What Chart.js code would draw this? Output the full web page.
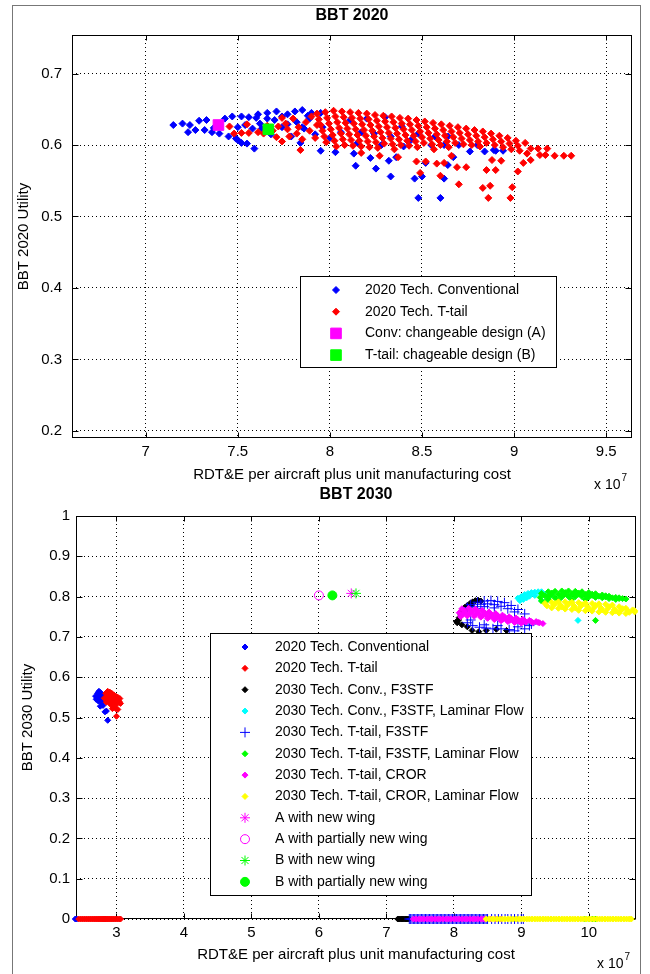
<!DOCTYPE html>
<html>
<head>
<meta charset="utf-8">
<script src="https://cdn.jsdelivr.net/npm/chart.js@4.4.0/dist/chart.umd.min.js"></script>
<style>
html, body { margin: 0; padding: 0; background: #fff; }
#page { position: relative; width: 650px; height: 974px; overflow: hidden; }
#frame { position: absolute; left: 12px; top: 5px; width: 629px; height: 990px; border: 1px solid #777; box-sizing: border-box; }
canvas { position: absolute; left: 0; }
#c1 { top: 0; }
#c2 { top: 487px; }
</style>
</head>
<body>
<div id="page">
  <div id="frame"></div>
  <canvas id="c1" width="650" height="495"></canvas>
  <canvas id="c2" width="650" height="487"></canvas>
</div>
<script>
// ---- BBT 2020 (cost in units of 1e7) ----
const xTicks2020 = [7, 7.5, 8, 8.5, 9, 9.5];
const yTicks2020 = [0.2, 0.3, 0.4, 0.5, 0.6, 0.7];

const conv2020 = [
  [7.15,0.628],[7.20,0.630],[7.24,0.628],[7.29,0.634],[7.33,0.635],[7.23,0.618],[7.27,0.621],[7.32,0.621],[7.36,0.618],
  [7.43,0.637],[7.47,0.640],[7.52,0.640],[7.56,0.639],[7.60,0.638],[7.61,0.643],[7.66,0.645],[7.71,0.647],[7.74,0.640],
  [7.77,0.643],[7.81,0.647],[7.85,0.649],[7.88,0.641],[7.90,0.645],[7.95,0.645],[7.37,0.624],
  [7.40,0.616],[7.45,0.612],[7.49,0.609],[7.50,0.607],[7.52,0.603],[7.55,0.602],[7.59,0.595],[7.58,0.623],[7.63,0.623],
  [7.50,0.625],[7.54,0.628],[7.66,0.637],[7.70,0.635],[7.84,0.603],[7.86,0.623],[7.89,0.637],[7.74,0.625],[7.77,0.629],
  [7.79,0.612],[7.68,0.615],[7.62,0.630],[7.82,0.632],[7.85,0.625],
  [7.95,0.592],[8.03,0.590],[8.13,0.588],[8.14,0.571],[8.22,0.582],[8.25,0.567],[8.32,0.578],[8.33,0.556],[8.46,0.553],
  [8.48,0.526],[8.60,0.526],[8.62,0.553],[8.50,0.556],[8.64,0.572],[8.67,0.583],[8.76,0.591],[8.84,0.591],[8.90,0.592],
  [8.94,0.592],[8.89,0.593],
  [8.06,0.618],[8.11,0.635],[8.20,0.637],[8.30,0.639],[8.39,0.626],[8.48,0.616],[8.57,0.612],[8.64,0.612],[8.33,0.612],
  [8.24,0.616],[8.17,0.618],[8.44,0.607],[8.55,0.600],[8.62,0.600],[8.70,0.600],[8.80,0.600],[8.36,0.583],[8.52,0.575],
  [8.40,0.598],[8.28,0.600],[8.15,0.603],[8.00,0.610],[7.96,0.625],[7.92,0.615]
];

const ttail2020 = [
  // left part mixed with the conventional designs
  [7.455,0.626],[7.48,0.616],[7.52,0.617],[7.56,0.617],[7.55,0.629],[7.61,0.618],[7.64,0.616],[7.72,0.626],[7.74,0.638],
  [7.77,0.622],[7.80,0.637],[7.82,0.616],[7.87,0.632],[7.74,0.605],[7.71,0.611],[7.66,0.627],[7.69,0.620],[7.76,0.630],
  [7.83,0.625],[7.89,0.620],[7.90,0.640],[7.92,0.610],[7.85,0.608],[7.78,0.612],[7.93,0.628],
  // main body, slanted columns
  [7.93,0.644],[7.94,0.636],[7.95,0.628],[7.96,0.620],[7.97,0.612],[7.98,0.604],
  [7.975,0.646],[7.985,0.638],[7.995,0.630],[8.005,0.622],[8.015,0.614],[8.025,0.606],[8.035,0.598],
  [8.02,0.648],[8.03,0.640],[8.04,0.632],[8.05,0.624],[8.06,0.616],[8.07,0.608],[8.08,0.600],
  [8.065,0.647],[8.075,0.639],[8.085,0.631],[8.095,0.623],[8.105,0.615],[8.115,0.607],[8.125,0.599],
  [8.11,0.646],[8.12,0.638],[8.13,0.630],[8.14,0.622],[8.15,0.614],[8.16,0.606],[8.17,0.598],
  [8.155,0.645],[8.165,0.637],[8.175,0.629],[8.185,0.621],[8.195,0.613],[8.205,0.605],[8.215,0.597],
  [8.20,0.644],[8.21,0.636],[8.22,0.628],[8.23,0.620],[8.24,0.612],[8.25,0.604],[8.26,0.596],
  [8.245,0.642],[8.255,0.634],[8.265,0.626],[8.275,0.618],[8.285,0.610],[8.295,0.602],
  [8.29,0.641],[8.30,0.633],[8.31,0.625],[8.32,0.617],[8.33,0.609],[8.34,0.601],[8.35,0.594],
  [8.335,0.640],[8.345,0.632],[8.355,0.624],[8.365,0.616],[8.375,0.608],[8.385,0.600],
  [8.38,0.638],[8.39,0.630],[8.40,0.622],[8.41,0.614],[8.42,0.606],[8.43,0.599],
  [8.425,0.637],[8.435,0.629],[8.445,0.621],[8.455,0.613],[8.465,0.605],[8.475,0.597],
  [8.47,0.635],[8.48,0.627],[8.49,0.619],[8.50,0.611],[8.51,0.603],
  [8.515,0.633],[8.525,0.625],[8.535,0.617],[8.545,0.609],[8.555,0.601],[8.565,0.594],
  [8.56,0.631],[8.57,0.623],[8.58,0.615],[8.59,0.607],[8.60,0.600],
  [8.605,0.629],[8.615,0.621],[8.625,0.613],[8.635,0.605],[8.645,0.597],
  [8.65,0.627],[8.66,0.619],[8.67,0.611],[8.68,0.603],
  [8.695,0.625],[8.705,0.617],[8.715,0.609],[8.725,0.601],
  [8.74,0.623],[8.75,0.615],[8.76,0.607],[8.77,0.600],
  [8.785,0.621],[8.795,0.613],[8.805,0.605],[8.815,0.598],
  [8.83,0.619],[8.84,0.611],[8.85,0.603],
  [8.875,0.616],[8.885,0.608],[8.895,0.600],
  [8.92,0.613],[8.93,0.605],[8.94,0.597],
  [8.965,0.610],[8.975,0.602],[8.985,0.594],
  [9.01,0.606],[9.02,0.599],[9.03,0.592],
  // right tail and low outliers
  [9.06,0.603],[9.09,0.595],[9.13,0.595],[9.18,0.595],[9.07,0.588],[9.14,0.586],[9.17,0.586],[9.22,0.585],[9.27,0.585],
  [9.31,0.585],[9.09,0.579],[9.05,0.575],[9.02,0.563],[8.99,0.541],[8.98,0.526],[8.86,0.526],[8.87,0.543],[8.83,0.540],
  [8.70,0.545],[8.90,0.565],[8.85,0.565],[8.74,0.569],[8.69,0.569],[8.93,0.578],[8.88,0.579],[8.62,0.575],[8.66,0.585],
  [8.60,0.557],[8.49,0.561],[8.58,0.574],[8.52,0.577],[8.47,0.577],[8.37,0.583],[8.27,0.585],[8.17,0.589],[7.84,0.593]
];

const designA2020 = [[7.395, 0.628]];
const designB2020 = [[7.666, 0.622]];

// ---- BBT 2030 ----
const xTicks2030 = [3, 4, 5, 6, 7, 8, 9, 10];
const yTicks2030 = [0, 0.1, 0.2, 0.3, 0.4, 0.5, 0.6, 0.7, 0.8, 0.9, 1];

const conv2020in2030 = [
  [2.69,0.553],[2.72,0.560],[2.74,0.565],[2.76,0.562],[2.78,0.558],[2.71,0.548],[2.74,0.552],[2.77,0.549],[2.80,0.553],
  [2.82,0.556],[2.76,0.539],[2.79,0.539],[2.76,0.528],[2.80,0.530],[2.83,0.514],[2.85,0.516],[2.87,0.493],[2.73,0.541],
  [2.70,0.545],[2.84,0.545]
];
const ttail2020in2030 = [
  [2.84,0.560],[2.87,0.565],[2.90,0.563],[2.93,0.560],[2.96,0.556],[2.99,0.553],[3.02,0.550],[3.05,0.547],[2.86,0.553],
  [2.89,0.556],[2.92,0.552],[2.95,0.549],[2.98,0.546],[3.01,0.543],[3.04,0.540],[2.88,0.545],[2.91,0.542],[2.94,0.540],
  [2.97,0.536],[3.00,0.533],[2.90,0.535],[2.93,0.530],[2.96,0.526],[2.99,0.522],[3.02,0.520],[3.00,0.503],[2.94,0.522],
  [3.06,0.535],[2.85,0.538],[2.82,0.548]
];
const convF3 = [
  [8.04,0.738],[8.08,0.748],[8.10,0.757],[8.13,0.766],[8.16,0.773],[8.20,0.778],[8.24,0.783],[8.28,0.787],[8.32,0.790],
  [8.36,0.791],[8.40,0.789],[8.18,0.768],[8.22,0.776],[8.26,0.779],[8.14,0.760],[8.07,0.742],[8.27,0.716],[8.37,0.713],
  [8.48,0.716],[8.63,0.719],[8.78,0.716],[8.20,0.725],[8.12,0.730],[8.05,0.735]
];
const convF3Lam = [
  [8.95,0.796],[9.00,0.800],[9.05,0.805],[9.10,0.808],[9.15,0.810],[9.20,0.811],[9.25,0.812],[9.30,0.812],[8.98,0.790],
  [9.03,0.793],[9.08,0.797],[9.12,0.801],[9.20,0.803],[9.35,0.806],[9.45,0.805],[9.30,0.790],[9.40,0.792],[9.84,0.741]
];
const ttailF3 = [
  [8.25,0.780],[8.35,0.786],[8.45,0.789],[8.55,0.790],[8.65,0.788],[8.75,0.785],[8.85,0.778],[8.95,0.768],[9.05,0.757],
  [8.30,0.775],[8.40,0.781],[8.50,0.782],[8.60,0.780],[8.70,0.776],[8.80,0.770],[8.90,0.762],[8.20,0.773],[8.45,0.775],
  [8.60,0.772],[8.35,0.770],[8.20,0.735],[8.28,0.728],[8.38,0.724],[8.48,0.722],[8.58,0.720],[8.70,0.720],[8.82,0.718],
  [8.90,0.715],[9.05,0.720],[9.12,0.728],[8.25,0.742],[8.45,0.730],[8.65,0.728],[8.95,0.725],[9.15,0.732]
];
const ttailF3Lam = [
  [9.30,0.808],[9.40,0.812],[9.50,0.813],[9.60,0.814],[9.70,0.814],[9.80,0.813],[9.90,0.812],[10.0,0.810],[10.1,0.807],
  [10.2,0.804],[10.3,0.801],[10.4,0.798],[10.5,0.795],
  [9.28,0.798],[9.35,0.802],[9.45,0.805],[9.55,0.806],[9.65,0.807],[9.75,0.807],[9.85,0.806],[9.95,0.805],[10.05,0.803],
  [10.15,0.801],[10.25,0.799],[10.35,0.797],[10.45,0.795],[10.55,0.794],
  [9.30,0.789],[9.40,0.794],[9.50,0.797],[9.60,0.799],[9.70,0.800],[9.80,0.800],[9.90,0.800],[10.0,0.799],[10.1,0.798],
  [10.2,0.797],[10.3,0.795],[10.4,0.793],
  [9.35,0.786],[9.55,0.791],[9.75,0.793],[9.95,0.793],[10.1,0.741],
  [9.45,0.809],[9.65,0.810],[9.85,0.809],[10.05,0.806],[10.25,0.802],[10.45,0.797],
  [9.40,0.800],[9.60,0.803],[9.80,0.804],[10.0,0.803],[10.2,0.800],[10.4,0.796]
];
const ttailCror = [
  [8.12,0.770],[8.22,0.771],[8.32,0.769],[8.42,0.766],[8.52,0.762],[8.62,0.758],[8.72,0.754],[8.82,0.750],[8.92,0.747],
  [9.02,0.744],[9.12,0.741],[9.22,0.738],
  [8.08,0.760],[8.17,0.762],[8.27,0.761],[8.37,0.758],[8.47,0.755],[8.57,0.751],[8.67,0.748],[8.77,0.745],[8.87,0.742],
  [8.97,0.739],[9.07,0.737],[9.17,0.735],[9.27,0.735],[9.32,0.733],
  [8.10,0.750],[8.20,0.752],[8.30,0.751],[8.40,0.749],[8.50,0.746],[8.60,0.743],[8.70,0.740],[8.80,0.738],[8.90,0.736],
  [9.00,0.734],
  [8.15,0.766],[8.25,0.766],[8.35,0.764],[8.45,0.761],[8.55,0.757],[8.65,0.753],[8.75,0.750],[8.85,0.746],[8.95,0.743],
  [9.05,0.740],[9.15,0.738],[9.25,0.736],
  [8.13,0.755],[8.23,0.757],[8.33,0.756],[8.43,0.753],[8.53,0.750],[8.63,0.747],[8.73,0.744],[8.83,0.741],[8.93,0.739],
  [9.03,0.737]
];
const ttailCrorLam = [
  [9.35,0.783],[9.45,0.786],[9.55,0.787],[9.65,0.787],[9.75,0.786],[9.85,0.785],[9.95,0.784],[10.05,0.783],[10.15,0.782],
  [10.25,0.781],[10.35,0.779],[10.45,0.775],[10.55,0.771],[10.65,0.767],
  [9.38,0.777],[9.48,0.779],[9.58,0.779],[9.68,0.778],[9.78,0.777],[9.88,0.776],[9.98,0.775],[10.08,0.773],[10.18,0.772],
  [10.28,0.770],[10.38,0.768],[10.48,0.766],[10.58,0.764],[10.68,0.762],
  [9.45,0.772],[9.55,0.771],[9.65,0.769],[9.75,0.768],[9.85,0.766],[9.95,0.765],[10.05,0.764],[10.15,0.762],[10.25,0.761],
  [10.35,0.760],[10.45,0.759],[10.55,0.758],
  [9.50,0.783],[9.70,0.782],[9.90,0.780],[10.10,0.778],[10.30,0.775],[10.50,0.770],[10.68,0.765],
  [9.60,0.774],[9.80,0.772],[10.00,0.770],[10.20,0.767],[10.40,0.764],[10.60,0.761]
];
const aNewWing = [[6.48, 0.808]];
const aPartialWing = [[6.00, 0.803]];
const bNewWing = [[6.55, 0.808]];
const bPartialWing = [[6.20, 0.803]];

// designs with zero utility (cost only)
const zeroConv2020 = [2.39, 2.41];
const zeroTtail2020 = [2.44,2.47,2.50,2.53,2.56,2.59,2.62,2.65,2.68,2.71,2.74,2.77,2.80,2.83,2.86,2.89,2.92,2.95,2.98,
  3.01,3.04,3.06];
const zeroConvF3 = [7.17,7.19,7.21,7.23,7.25,7.27,7.29,7.31,7.33];
const zeroTtailF3 = [7.34,7.36,7.38,7.40,7.42,7.44,7.46,7.48,7.50,7.52,7.54,7.56,7.58,7.60,7.62,7.64,7.66,7.68,7.70,
  7.72,7.74,7.76,7.78,7.80,7.82,7.84,7.86,7.88,7.90,7.92,7.94,7.96,7.98,8.00,8.02,8.04,8.06,8.08,8.10,8.12,8.14,8.16,
  8.18,8.20,8.22,8.24,8.26,8.28,8.30,8.32,8.34,8.36,8.38,8.40,8.42,8.44,8.46,8.48,8.50,8.56,8.61,8.66,8.71,8.76,8.80,
  8.85,8.90,8.95,9.00,9.03];
const zeroTtailF3Lam = [9.95,10.00,10.05,10.10];
const zeroTtailCror = [7.40,7.44,7.48,7.52,7.56,7.60,7.64,7.68,7.72,7.76,7.80,7.84,7.88,7.92,7.96,8.00,8.04,8.08,8.12,
  8.16,8.20,8.24,8.28,8.32,8.36,8.40,8.44,8.47,8.55,8.62,8.70];
const zeroTtailCrorLam = [8.48,8.52,8.56,8.60,8.64,8.68,8.72,8.76,8.80,8.84,8.88,8.92,8.96,9.00,9.04,9.08,9.12,9.16,
  9.20,9.24,9.28,9.32,9.36,9.40,9.44,9.48,9.52,9.56,9.60,9.64,9.68,9.72,9.76,9.80,9.84,9.88,9.92,9.96,10.00,10.04,
  10.08,10.12,10.16,10.20,10.24,10.28,10.32,10.36,10.40,10.44,10.48,10.52,10.56,10.60,10.63];

const FONT = "'Liberation Sans', Arial, sans-serif";
Chart.defaults.font.family = FONT;
Chart.defaults.color = '#000';

function pts(list, zeros) {
  const out = list.map(p => ({x: p[0], y: p[1]}));
  (zeros || []).forEach(x => out.push({x: x, y: 0}));
  return out;
}

function series(label, data, color, style, radius, fill, order) {
  return {
    label: label,
    data: data,
    showLine: false,
    pointStyle: style,
    pointRadius: radius,
    pointHoverRadius: radius,
    pointBackgroundColor: fill ? color : 'rgba(0,0,0,0)',
    pointBorderColor: color,
    pointBorderWidth: 1,
    order: order,
    clip: false
  };
}

// box and inward tick marks, drawn under the data like Matlab
const frameTicks = {
  id: 'frameTicks',
  beforeDatasetsDraw(chart) {
    const {ctx, chartArea: a, scales: {x, y}} = chart;
    ctx.save();
    ctx.strokeStyle = '#000';
    ctx.lineWidth = 1;
    ctx.setLineDash([]);
    const l = Math.round(a.left) + 0.5, r = Math.round(a.right) - 0.5;
    const t = Math.round(a.top) + 0.5, b = Math.round(a.bottom) - 0.5;
    ctx.strokeRect(l, t, r - l, b - t);
    ctx.beginPath();
    x.ticks.forEach(tk => {
      const px = Math.round(x.getPixelForValue(tk.value)) + 0.5;
      ctx.moveTo(px, t); ctx.lineTo(px, t + 5);
      ctx.moveTo(px, b); ctx.lineTo(px, b - 5);
    });
    y.ticks.forEach(tk => {
      const py = Math.round(y.getPixelForValue(tk.value)) + 0.5;
      ctx.moveTo(l, py); ctx.lineTo(l + 6, py);
      ctx.moveTo(r, py); ctx.lineTo(r - 6, py);
    });
    ctx.stroke();
    ctx.restore();
  }
};

// legend box inside the axes
const boxLegend = {
  id: 'boxLegend',
  afterDatasetsDraw(chart, args, o) {
    const ctx = chart.ctx;
    ctx.save();
    ctx.fillStyle = '#fff';
    ctx.fillRect(o.x, o.y, o.w, o.h);
    ctx.strokeStyle = '#000';
    ctx.lineWidth = 1;
    ctx.strokeRect(o.x + 0.5, o.y + 0.5, o.w, o.h);
    ctx.font = o.fontSize + 'px ' + FONT;
    ctx.textBaseline = 'middle';
    ctx.textAlign = 'left';
    chart.data.datasets.forEach((ds, i) => {
      const y = o.rowY + i * o.rowH;
      ctx.fillStyle = ds.pointBackgroundColor;
      ctx.strokeStyle = ds.pointBorderColor;
      ctx.lineWidth = ds.pointBorderWidth;
      Chart.helpers.drawPoint(ctx, {pointStyle: ds.pointStyle, radius: ds.pointRadius, borderWidth: ds.pointBorderWidth, rotation: 0}, o.markerX, y);
      ctx.fillStyle = '#000';
      ctx.fillText(ds.label, o.textX, y);
    });
    ctx.restore();
  }
};

// bold title and the x 10^7 multiplier
const headline = {
  id: 'headline',
  afterDraw(chart, args, o) {
    const ctx = chart.ctx, a = chart.chartArea;
    ctx.save();
    ctx.fillStyle = '#000';
    ctx.textAlign = 'center';
    ctx.textBaseline = 'middle';
    ctx.font = 'bold 16px ' + FONT;
    ctx.fillText(o.text, (a.left + a.right) / 2, o.titleY);
    ctx.textAlign = 'left';
    ctx.textBaseline = 'alphabetic';
    ctx.font = '14px ' + FONT;
    ctx.fillText('x 10', o.expX, o.expY);
    const w = ctx.measureText('x 10').width;
    ctx.font = '10px ' + FONT;
    ctx.fillText('7', o.expX + w + 1, o.expY - 8);
    ctx.restore();
  }
};

function axis(min, max, ticks, title, size, tickPad, titlePad) {
  return {
    type: 'linear',
    min: min,
    max: max,
    afterBuildTicks: s => { s.ticks = ticks.map(v => ({value: v})); },
    afterFit: s => { if (s.isHorizontal()) s.height = size; else s.width = size; },
    grid: { color: '#000', lineWidth: 1, drawTicks: false },
    border: { display: false, dash: [1, 3] },
    ticks: { padding: tickPad, font: { size: 15 }, color: '#000', callback: v => String(v) },
    title: { display: true, text: title, font: { size: 15 }, color: '#000', padding: titlePad }
  };
}

const xTitle = 'RDT&E per aircraft plus unit manufacturing cost';

new Chart(document.getElementById('c1'), {
  type: 'scatter',
  data: {
    datasets: [
      series('2020 Tech. Conventional', pts(conv2020), '#0000ff', 'rectRot', 3.5, true, 4),
      series('2020 Tech. T-tail', pts(ttail2020), '#ff0000', 'rectRot', 3.5, true, 3),
      series('Conv: changeable design (A)', pts(designA2020), '#ff00ff', 'rect', 7.5, true, 2),
      series('T-tail: chageable design (B)', pts(designB2020), '#00ff00', 'rect', 7.5, true, 1)
    ]
  },
  options: {
    responsive: false,
    animation: false,
    events: [],
    layout: { padding: { left: 0, right: 18, top: 35, bottom: 8 } },
    plugins: {
      legend: { display: false },
      tooltip: { enabled: false },
      boxLegend: { x: 300, y: 276, w: 256, h: 91, rowY: 290, rowH: 21.7, markerX: 336, textX: 365, fontSize: 14 },
      headline: { text: 'BBT 2020', titleY: 16, expX: 594, expY: 489 }
    },
    scales: {
      x: axis(6.6, 9.64, xTicks2020, xTitle, 49, 5, { top: 0, bottom: 3.5 }),
      y: axis(0.19, 0.754, yTicks2020, 'BBT 2020 Utility', 72, 10, { top: 15, bottom: 0 })
    }
  },
  plugins: [frameTicks, boxLegend, headline]
});

new Chart(document.getElementById('c2'), {
  type: 'scatter',
  data: {
    datasets: [
      series('2020 Tech. Conventional', pts(conv2020in2030, zeroConv2020), '#0000ff', 'rectRot', 3, true, 20),
      series('2020 Tech. T-tail', pts(ttail2020in2030, zeroTtail2020), '#ff0000', 'rectRot', 3, true, 19),
      series('2030 Tech. Conv., F3STF', pts(convF3, zeroConvF3), '#000000', 'rectRot', 3, true, 18),
      series('2030 Tech. Conv., F3STF, Laminar Flow', pts(convF3Lam), '#00ffff', 'rectRot', 3, true, 17),
      series('2030 Tech. T-tail, F3STF', pts(ttailF3, zeroTtailF3), '#0000ff', 'cross', 5, false, 16),
      series('2030 Tech. T-tail, F3STF, Laminar Flow', pts(ttailF3Lam, zeroTtailF3Lam), '#00ff00', 'rectRot', 3, true, 15),
      series('2030 Tech. T-tail, CROR', pts(ttailCror, zeroTtailCror), '#ff00ff', 'rectRot', 3, true, 14),
      series('2030 Tech. T-tail, CROR, Laminar Flow', pts(ttailCrorLam, zeroTtailCrorLam), '#ffff00', 'rectRot', 3, true, 13),
      series('A with new wing', pts(aNewWing), '#ff00ff', 'star', 5, false, 12),
      series('A with partially new wing', pts(aPartialWing), '#ff00ff', 'circle', 4.5, false, 11),
      series('B with new wing', pts(bNewWing), '#00ff00', 'star', 5, false, 10),
      series('B with partially new wing', pts(bPartialWing), '#00ff00', 'circle', 4.5, true, 9)
    ]
  },
  options: {
    responsive: false,
    animation: false,
    events: [],
    layout: { padding: { left: 0, right: 14, top: 29, bottom: 0 } },
    plugins: {
      legend: { display: false },
      tooltip: { enabled: false },
      boxLegend: { x: 210, y: 146, w: 321, h: 262, rowY: 160, rowH: 21.35, markerX: 245, textX: 275, fontSize: 14 },
      headline: { text: 'BBT 2030', titleY: 8, expX: 597, expY: 481 }
    },
    scales: {
      x: axis(2.4, 10.7, xTicks2030, xTitle, 55, 4.5, { top: 0, bottom: 10 }),
      y: axis(0, 1, yTicks2030, 'BBT 2030 Utility', 76, 6, { top: 19, bottom: 0 })
    }
  },
  plugins: [frameTicks, boxLegend, headline]
});
</script>
</body>
</html>
